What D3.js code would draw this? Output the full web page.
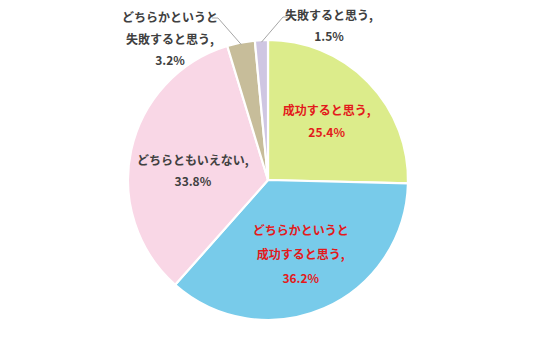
<!DOCTYPE html>
<html><head><meta charset="utf-8">
<script src="https://cdn.jsdelivr.net/npm/d3@7"></script>
<style>
html,body{margin:0;padding:0;background:#fff;}
text{font-family:"Noto Sans CJK JP","Noto Sans",sans-serif;font-weight:bold;font-size:12px;}
</style></head>
<body><svg id="c" width="536" height="359"></svg>
<script>
const categories = ["成功すると思う", "どちらかというと成功すると思う", "どちらともいえない", "どちらかというと失敗すると思う", "失敗すると思う"];
const labelLines = [["成功すると思う,"], ["どちらかというと", "成功すると思う,"], ["どちらともいえない,"], ["どちらかというと", "失敗すると思う,"], ["失敗すると思う,"]];
const values = [25.4, 36.2, 33.8, 3.2, 1.5];
const colors = ["#DCEC8B", "#78CBEA", "#F9D7E6", "#C7BD9A", "#CFC6E2"];
const textColors = ["#E31A1C", "#E31A1C", "#404040", "#404040", "#404040"];

const svg = d3.select("#c");
const cx = 268, cy = 180, R = 140;
const g = svg.append("g").attr("transform", `translate(${cx},${cy})`);
const data = values.map((v, i) => ({v, i}));
const pie = d3.pie().value(d => d.v).sort(null);
const arcs = pie(data);
const arc = d3.arc().innerRadius(0).outerRadius(R);
g.selectAll("path.s").data(arcs).join("path")
  .attr("d", arc).attr("fill", d => colors[d.data.i])
  .attr("stroke", "#fff").attr("stroke-width", 2.2);

const inner = d3.arc().innerRadius(82).outerRadius(82);
const lineH = [22, 24, 21];
const nudge = [[0, -1], [0, 0], [5, 9]];
arcs.slice(0, 3).forEach((a, k) => {
  const [x0, y] = inner.centroid(a);
  const x = x0 + nudge[k][0];
  const lines = labelLines[k].concat([values[k].toFixed(1) + "%"]);
  const h = lineH[k];
  const y0 = y + nudge[k][1] - (lines.length - 1) * h / 2;
  lines.forEach((t, j) => {
    g.append("text").attr("x", x).attr("y", y0 + j * h).attr("dy", "0.36em")
      .attr("text-anchor", "middle").attr("fill", textColors[k]).text(t);
  });
});

// outside labels with leader lines
const edge = d3.arc().innerRadius(R - 2).outerRadius(R - 2);
const outside = [
  {k: 3, elbow: [-50, -162], end: [-56, -162], tx: -98, ty: -162, h: 21.5},
  {k: 4, elbow: [15, -163], end: [20, -163], tx: 61, ty: -164, h: 20.5}
];
outside.forEach(o => {
  const p = edge.centroid(arcs[o.k]);
  g.append("polyline").attr("points", [p, o.elbow, o.end].map(q => q.join(",")).join(" "))
    .attr("fill", "none").attr("stroke", "#A6A6A6").attr("stroke-width", 1);
  const lines = labelLines[o.k].concat([values[o.k].toFixed(1) + "%"]);
  lines.forEach((t, j) => {
    g.append("text").attr("x", o.tx).attr("y", o.ty + j * o.h).attr("dy", "0.36em")
      .attr("text-anchor", "middle").attr("fill", textColors[o.k]).text(t);
  });
});
</script></body></html>
